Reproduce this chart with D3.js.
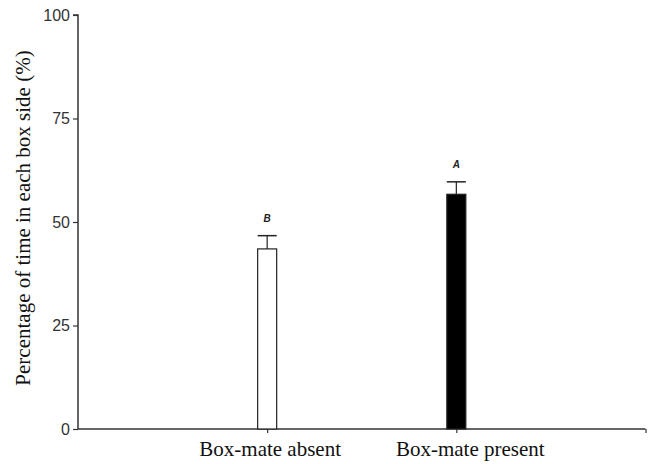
<!DOCTYPE html>
<html><head><meta charset="utf-8">
<script src="https://cdn.jsdelivr.net/npm/d3@7"></script>
<style>body{margin:0;background:#fff;}svg{display:block;}</style>
</head><body>
<svg id="c" width="656" height="464"></svg>
<script>
const categories = ["Box-mate absent", "Box-mate present"];
const means = [43.5, 56.7];
const errors = [3.2, 3.0];
const letters = ["B", "A"];
const fills = ["#ffffff", "#000000"];
const yTicks = [0, 25, 50, 75, 100];

const svg = d3.select("#c");
const x = d3.scaleLinear().domain([0, 3]).range([78, 645.5]);
const y = d3.scaleLinear().domain([0, 100]).range([429, 15]);
const axisColor = "#333";
const labelOffsets = [3, 14];

// y axis
const ya = svg.append("g").attr("transform", "translate(78,0)")
  .call(d3.axisLeft(y).tickValues(yTicks).tickSize(5).tickPadding(3));
ya.select(".domain").attr("stroke", axisColor).attr("stroke-width", 1.5).attr("d", `M-5,${y(100)}H0V${y(0)}`);
ya.selectAll(".tick line").attr("stroke", axisColor).attr("stroke-width", 1.2);
ya.selectAll(".tick text").attr("font-family", "Liberation Sans, Arial, sans-serif")
  .attr("font-size", 16).attr("fill", "#333");

// x axis
const xa = svg.append("g").attr("transform", `translate(0,${y(0)})`)
  .call(d3.axisBottom(x).tickValues([1, 2, 3]).tickSize(4).tickFormat(""));
xa.select(".domain").attr("stroke", axisColor).attr("stroke-width", 1.5).attr("d", `M${x(0)},0H${x(3)}`);
xa.selectAll(".tick line").attr("stroke", axisColor).attr("stroke-width", 1.2);

const bw = 19;
const g = svg.append("g");
categories.forEach((c, i) => {
  const cx = x(i + 1);
  g.append("rect").attr("x", cx - bw / 2).attr("y", y(means[i]))
    .attr("width", bw).attr("height", y(0) - y(means[i]))
    .attr("fill", fills[i]).attr("stroke", "#222").attr("stroke-width", 1.2);
  g.append("line").attr("x1", cx).attr("x2", cx).attr("y1", y(means[i])).attr("y2", y(means[i] + errors[i]))
    .attr("stroke", "#222").attr("stroke-width", 1.2);
  g.append("line").attr("x1", cx - bw / 2).attr("x2", cx + bw / 2)
    .attr("y1", y(means[i] + errors[i])).attr("y2", y(means[i] + errors[i]))
    .attr("stroke", "#222").attr("stroke-width", 1.5);
  g.append("text").attr("x", cx).attr("y", y(means[i] + errors[i]) - 14)
    .attr("text-anchor", "middle").attr("font-family", "Liberation Sans, Arial, sans-serif")
    .attr("font-size", 10).attr("font-weight", "bold").attr("font-style", "italic").attr("fill", "#222")
    .text(letters[i]);
  g.append("text").attr("x", cx + labelOffsets[i]).attr("y", 456)
    .attr("text-anchor", "middle").attr("font-family", "Liberation Serif, Times New Roman, serif")
    .attr("font-size", 21).attr("fill", "#111").text(c);
});

svg.append("text").attr("transform", "translate(30,218) rotate(-90)")
  .attr("text-anchor", "middle").attr("font-family", "Liberation Serif, Times New Roman, serif")
  .attr("font-size", 21).attr("fill", "#111").text("Percentage of time in each box side (%)");
</script>
</body></html>
